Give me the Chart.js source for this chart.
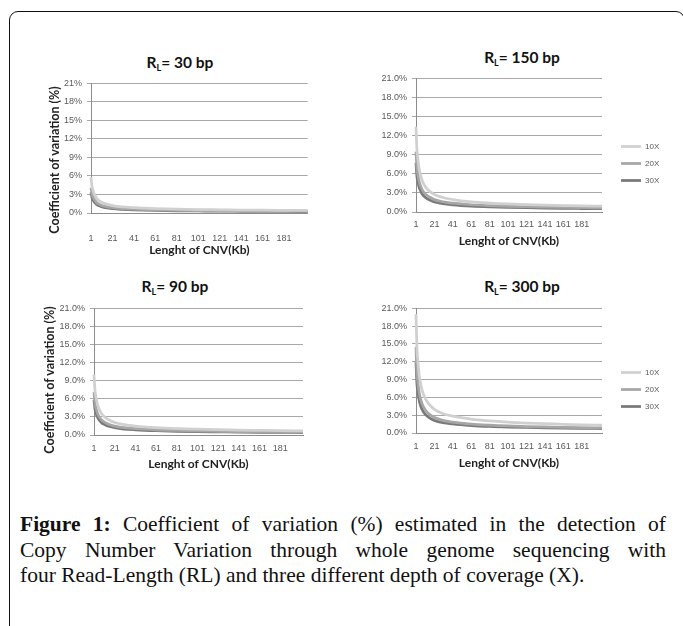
<!DOCTYPE html>
<html><head><meta charset="utf-8">
<script src="https://cdn.jsdelivr.net/npm/chart.js@4"></script>
<style>
html,body{margin:0;padding:0;background:#fff;width:683px;height:626px;overflow:hidden;}
#frame{position:absolute;left:9px;top:11px;width:676px;height:700px;border:1.5px solid #111;border-radius:9px;box-sizing:border-box;}
canvas{position:absolute;}
.ptitle{position:absolute;font-family:Lato,sans-serif;font-weight:bold;font-size:15.5px;color:#111;white-space:nowrap;transform:translate(-50%,-50%);}
.ptitle sub{font-size:9px;vertical-align:-3px;}
.ytitle{position:absolute;font-family:Lato,sans-serif;font-weight:bold;font-size:12.5px;color:#222;white-space:nowrap;transform:translate(-50%,-50%) rotate(-90deg);}
.cap{position:absolute;left:20px;width:646px;font-family:"Liberation Serif",serif;font-size:21.5px;line-height:25px;color:#111;}
.just{text-align:justify;text-align-last:justify;}
</style>
</head><body>
<div id="frame"></div>
<script>
// ---- data ----
const lengthKb = [1,2,3,4,5,6,8,10,13,16,21,30,41,61,81,101,121,141,161,181,203];
const xTickLabels = [1,21,41,61,81,101,121,141,161,181];
const yTickLabelsInt = ['0%','3%','6%','9%','12%','15%','18%','21%'];
const yTickLabelsDec = ['0.0%','3.0%','6.0%','9.0%','12.0%','15.0%','18.0%','21.0%'];
const coverageNames = ['10X','20X','30X'];
const readLengthNames = ['30','150','90','300'];

const cv30_10X = [5.8,4.25,3.6,3.1,2.75,2.48,2.07,1.84,1.58,1.42,1.2,0.99,0.86,0.71,0.62,0.56,0.52,0.48,0.45,0.43,0.41];
const cv30_20X = [4.1,3.0,2.55,2.2,1.95,1.76,1.47,1.31,1.12,1.0,0.85,0.71,0.61,0.5,0.44,0.4,0.37,0.34,0.32,0.3,0.29];
const cv30_30X = [3.35,2.45,2.08,1.8,1.6,1.44,1.2,1.07,0.92,0.82,0.69,0.58,0.5,0.41,0.36,0.33,0.3,0.28,0.26,0.25,0.23];

const cv90_10X = [10.0,7.3,6.2,5.35,4.75,4.3,3.6,3.2,2.75,2.46,2.08,1.72,1.48,1.22,1.06,0.96,0.88,0.82,0.77,0.72,0.69];
const cv90_20X = [7.1,5.2,4.4,3.8,3.35,3.05,2.57,2.28,1.96,1.74,1.47,1.22,1.05,0.87,0.76,0.68,0.62,0.58,0.55,0.52,0.49];
const cv90_30X = [5.8,4.25,3.6,3.1,2.75,2.48,2.07,1.84,1.58,1.42,1.2,0.99,0.86,0.71,0.62,0.56,0.52,0.48,0.45,0.43,0.41];

const cv150_10X = [13.4,9.8,8.4,7.2,6.4,5.8,4.85,4.25,3.65,3.25,2.75,2.28,1.96,1.6,1.4,1.26,1.16,1.08,1.02,0.96,0.91];
const cv150_20X = [9.5,6.9,5.9,5.05,4.5,4.07,3.4,3.02,2.6,2.31,1.95,1.61,1.39,1.14,1.0,0.9,0.83,0.77,0.72,0.68,0.65];
const cv150_30X = [7.7,5.6,4.8,4.1,3.63,3.3,2.76,2.45,2.1,1.87,1.58,1.31,1.13,0.93,0.81,0.73,0.67,0.62,0.58,0.55,0.52];

const cv300_10X = [20.0,14.3,12.2,10.4,9.2,8.35,7.0,6.2,5.3,4.72,4.0,3.3,2.85,2.34,2.04,1.83,1.68,1.56,1.47,1.39,1.32];
const cv300_20X = [14.5,10.2,8.6,7.25,6.4,5.7,4.75,4.15,3.5,3.1,2.6,2.13,1.83,1.5,1.31,1.18,1.09,1.02,0.96,0.91,0.87];
const cv300_30X = [12.0,8.3,6.9,5.9,5.15,4.6,3.85,3.35,2.85,2.52,2.12,1.75,1.52,1.26,1.1,1.0,0.93,0.87,0.82,0.78,0.75];

// ---- styling / layout ----
const lineColors = ['#d0d0d0','#a6a6a6','#7a7a7a'];
const TICK_FONT = {family:'Liberation Sans', size:9};
const TICK_COLOR = '#595959';

const legendGap = {
  id:'legendGap',
  afterLayout(chart, args, opts){
    const lg = chart.legend;
    if (lg && opts && opts.gap) { lg.left += opts.gap; lg.right += opts.gap; }
  }
};

function addEl(cls, html, x, y){
  const d = document.createElement('div');
  d.className = cls; d.innerHTML = html;
  d.style.left = x + 'px'; d.style.top = y + 'px';
  document.body.appendChild(d);
}

function panel(cfg){
  const c = document.createElement('canvas');
  c.width = cfg.w; c.height = cfg.h;
  c.style.left = cfg.left + 'px'; c.style.top = cfg.top + 'px';
  c.style.width = cfg.w + 'px'; c.style.height = cfg.h + 'px';
  document.body.appendChild(c);
  const datasets = cfg.series.map((vals, i) => ({
    label: coverageNames[i],
    data: lengthKb.map((x, j) => ({x: x, y: vals[j]})),
    borderColor: lineColors[i],
    backgroundColor: lineColors[i],
    borderWidth: 2.75,
    pointRadius: 0,
    cubicInterpolationMode: 'monotone',
    clip: false,
    fill: false
  }));
  new Chart(c, {
    type: 'line',
    data: {datasets},
    plugins: [legendGap],
    options: {
      responsive: false,
      animation: false,
      devicePixelRatio: 1,
      layout: {padding: {top: 10, right: cfg.padR, bottom: 0, left: 0}},
      plugins: {
        legend: cfg.legend ? {
          display: true, position: 'right', align: 'center', maxWidth: 50,
          labels: {usePointStyle: true, pointStyle: 'line', pointStyleWidth: 20, padding: 9,
                   font: {family: 'Liberation Sans', size: 8}, color: TICK_COLOR}
        } : {display: false},
        legendGap: {gap: cfg.legend ? 10 : 0},
        tooltip: {enabled: false},
        title: {display: false}
      },
      scales: {
        x: {
          type: 'linear', min: 1, max: 203,
          afterBuildTicks: s => { s.ticks = xTickLabels.map(v => ({value: v})); },
          afterFit: s => { s.height = cfg.xH; },
          grid: {display: false, drawTicks: false},
          border: {display: true, color: '#8c8c8c', width: 1},
          ticks: {autoSkip: false, maxRotation: 0, padding: cfg.xPad, font: TICK_FONT, color: TICK_COLOR,
                  callback: v => String(v)},
          title: {display: true, text: 'Lenght of CNV(Kb)', color: '#222',
                  font: {family: 'Lato', size: 12, weight: 'bold'}, padding: {top: 0, bottom: cfg.tPad}}
        },
        y: {
          min: 0, max: 21,
          afterFit: s => { s.width = cfg.yW; },
          ticks: {stepSize: 3, padding: 5, font: TICK_FONT, color: TICK_COLOR,
                  callback: v => cfg.yLabels[Math.round(v / 3)]},
          grid: {color: '#a8a8a8', lineWidth: 1, drawTicks: true, tickLength: 4, tickColor: '#a8a8a8'},
          border: {display: true, color: '#8c8c8c', width: 1}
        }
      }
    }
  });
}

panel({left:55, top:73, w:257, h:189, padR:4, yW:36, xH:49, xPad:20, tPad:5, legend:false,
       yLabels: yTickLabelsInt, series:[cv30_10X, cv30_20X, cv30_30X]});
panel({left:340, top:68, w:343, h:181, padR:31, yW:76, xH:37, xPad:7, tPad:1, legend:true,
       yLabels: yTickLabelsDec, series:[cv150_10X, cv150_20X, cv150_30X]});
panel({left:50, top:298, w:257, h:178, padR:4, yW:44, xH:41, xPad:8, tPad:4.5, legend:false,
       yLabels: yTickLabelsDec, series:[cv90_10X, cv90_20X, cv90_30X]});
panel({left:340, top:298, w:343, h:173, padR:31, yW:76, xH:38, xPad:8, tPad:0.5, legend:true,
       yLabels: yTickLabelsDec, series:[cv300_10X, cv300_20X, cv300_30X]});

addEl('ptitle', 'R<sub>L</sub>= ' + readLengthNames[0] + ' bp', 180, 63);
addEl('ptitle', 'R<sub>L</sub>= ' + readLengthNames[1] + ' bp', 522, 58);
addEl('ptitle', 'R<sub>L</sub>= ' + readLengthNames[2] + ' bp', 175, 287);
addEl('ptitle', 'R<sub>L</sub>= ' + readLengthNames[3] + ' bp', 522, 287);
addEl('ytitle', 'Coefficient of variation (%)', 54, 160);
addEl('ytitle', 'Coefficient of variation (%)', 49, 380);

addEl('cap just', '<b>Figure 1:</b> Coefficient of variation (%) estimated in the detection of', 20, 512);
addEl('cap just', 'Copy Number Variation through whole genome sequencing with', 20, 538);
addEl('cap', 'four Read-Length (RL) and three different depth of coverage (X).', 20, 563);
</script>
</body></html>
